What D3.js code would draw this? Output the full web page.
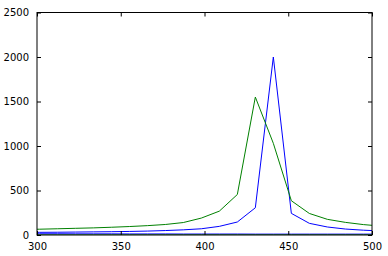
<!DOCTYPE html>
<html><head>
<meta charset="utf-8">
<script src="https://d3js.org/d3.v7.min.js"></script>
<style>
  body { margin: 0; background: #fff; }
  text { font-family: "DejaVu Sans", sans-serif; font-size: 10px; fill: #000; }
</style>
</head>
<body>
<svg id="chart" width="388" height="256"></svg>
<script>
// sample positions
const xs = [290.6, 301.35, 312.1, 322.85, 333.6, 344.35, 355.1, 365.85, 376.6, 387.35,
            398.1, 408.85, 419.6, 430.35, 441.1, 451.85, 462.6, 473.35, 484.1, 494.85, 505.6];

// big blue peak
const blueMain  = [28, 30, 31, 33, 35, 37, 40, 44, 50, 58, 70, 97, 146, 306, 2000, 243, 131, 90, 67, 54, 45];
// green peak
const greenMain = [62, 65, 70, 75, 80, 87, 95, 105, 118, 140, 190, 268, 455, 1550, 1030, 385, 242, 176, 142, 117, 100];
// the two flat lines near zero
const blueLow   = [14, 14, 14, 13, 13, 13, 12, 12, 12, 11, 11, 11, 11, 10, 10, 10, 10, 10, 10, 10, 10];
const greenLow  = [1, 1, 1, 1, 1, 1, 1, 1, 1, 1, 1, 1, 1, 1, 1, 1, 1, 1, 1, 1, 1];

const xTicks = [300, 350, 400, 450, 500];
const yTicks = [0, 500, 1000, 1500, 2000, 2500];

const svg = d3.select("#chart");
const margin = { top: 12.5, right: 16, bottom: 21, left: 37 };
const w = 388 - margin.left - margin.right;
const h = 256 - margin.top - margin.bottom;

const x = d3.scaleLinear().domain([300, 500]).range([0, w]);
const y = d3.scaleLinear().domain([0, 2500]).range([h, 0]);

const g = svg.append("g").attr("transform", "translate(" + margin.left + "," + margin.top + ")");

g.append("clipPath").attr("id", "clip")
  .append("rect").attr("x", 0).attr("y", -1).attr("width", w).attr("height", h + 1);

const line = d3.line().x((d, i) => x(xs[i])).y(d => y(d));

const series = [
  { v: blueMain,  c: "#0000ff" },
  { v: greenMain, c: "#008000" },
  { v: blueLow,   c: "#0000ff" },
  { v: greenLow,  c: "#008000" }
];

g.append("g").attr("clip-path", "url(#clip)")
  .selectAll("path").data(series).join("path")
  .attr("d", d => line(d.v))
  .attr("fill", "none")
  .attr("stroke", d => d.c)
  .attr("stroke-width", 1);

// frame
g.append("rect").attr("x", 0).attr("y", 0).attr("width", w).attr("height", h)
  .attr("fill", "none").attr("stroke", "#000").attr("stroke-width", 1);

// axes with inward ticks, mirrored on the opposite sides
const xb = g.append("g").attr("transform", "translate(0," + h + ")")
  .call(d3.axisBottom(x).tickValues(xTicks).tickSize(-4).tickPadding(8).tickFormat(d3.format("d")));
const xt = g.append("g")
  .call(d3.axisTop(x).tickValues(xTicks).tickSize(-4).tickFormat(""));
const yl = g.append("g")
  .call(d3.axisLeft(y).tickValues(yTicks).tickSize(-4).tickPadding(8).tickFormat(d3.format("d")));
const yr = g.append("g").attr("transform", "translate(" + w + ",0)")
  .call(d3.axisRight(y).tickValues(yTicks).tickSize(-4).tickFormat(""));

[xb, xt, yl, yr].forEach(a => {
  a.select(".domain").remove();
  a.selectAll("line").attr("stroke", "#000");
  a.selectAll("text").attr("font-size", 10).attr("font-family", "DejaVu Sans, sans-serif");
});
</script>
</body>
</html>
